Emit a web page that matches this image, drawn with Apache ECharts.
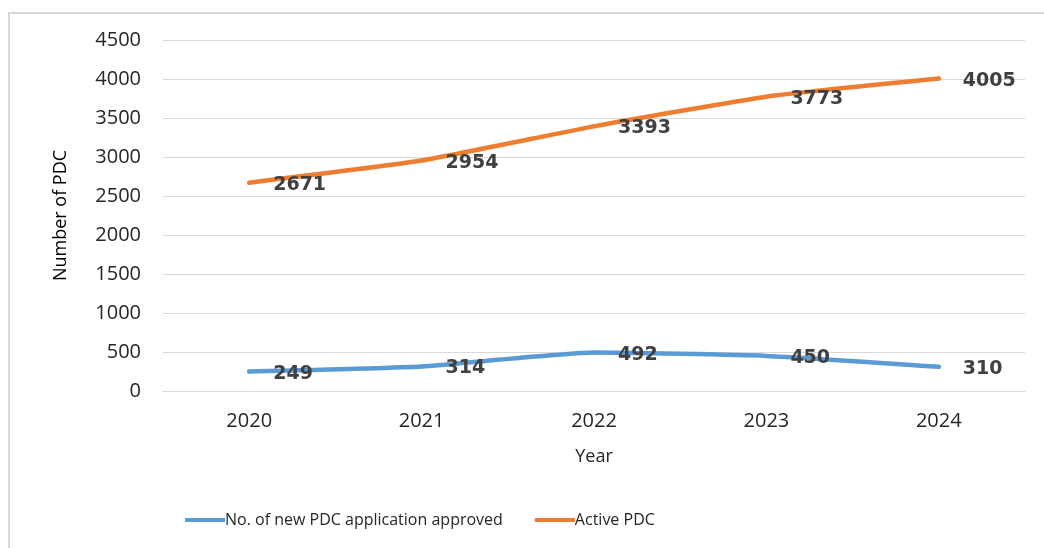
<!DOCTYPE html>
<html>
<head>
<meta charset="utf-8">
<script src="https://cdn.jsdelivr.net/npm/echarts@6/dist/echarts.min.js"></script>
<style>
  html, body { margin: 0; padding: 0; background: #ffffff; }
  #chart { width: 1044px; height: 548px; }
</style>
</head>
<body>
<div id="chart"></div>
<script>
// Years on the x axis
const years = ['2020', '2021', '2022', '2023', '2024'];
// New PDC applications approved each year
const newApproved = [249, 314, 492, 450, 310];
// Active PDC count each year
const activePdc = [2671, 2954, 3393, 3773, 4005];
// Series names shown in the legend
const seriesNames = ['No. of new PDC application approved', 'Active PDC'];

const axisFont = 'Open Sans';
const labelStyle = {
  show: true,
  position: 'right',
  distance: 22,
  offset: [0, 2],
  color: '#404040',
  fontFamily: 'DejaVu Sans',
  fontWeight: 'bold',
  fontSize: 19
};

function lineSeries(name, values, color) {
  return {
    name: name,
    type: 'line',
    data: values,
    smooth: 0.15,
    showSymbol: true,
    symbol: 'circle',
    symbolSize: 4,
    itemStyle: { color: color },
    lineStyle: { color: color, width: 4.5, cap: 'round' },
    label: labelStyle,
    emphasis: { disabled: true }
  };
}

const chart = echarts.init(document.getElementById('chart'), null, { renderer: 'canvas' });
chart.setOption({
  backgroundColor: '#ffffff',
  animation: false,
  graphic: [{
    type: 'rect',
    shape: { x: 9, y: 13, width: 1060, height: 560 },
    style: { fill: 'none', stroke: '#d9d9d9', lineWidth: 2 },
    silent: true,
    z: -1
  }],
  grid: { left: 163, right: 19, top: 40, bottom: 157 },
  legend: {
    bottom: 15,
    left: 180,
    itemWidth: 40,
    itemHeight: 4,
    itemGap: 32,
    icon: 'rect',
    textStyle: { color: '#262626', fontFamily: axisFont, fontSize: 16, padding: [0, 0, 0, -5] },
    data: seriesNames
  },
  xAxis: {
    type: 'category',
    data: years,
    boundaryGap: true,
    name: 'Year',
    nameLocation: 'middle',
    nameGap: 57,
    nameTextStyle: { color: '#262626', fontFamily: axisFont, fontSize: 18 },
    axisLine: { show: true, lineStyle: { color: '#d9d9d9', width: 1 } },
    axisTick: { show: false },
    axisLabel: { color: '#262626', fontFamily: axisFont, fontSize: 20, margin: 20 }
  },
  yAxis: {
    type: 'value',
    min: 0,
    max: 4500,
    interval: 500,
    name: 'Number of PDC',
    nameLocation: 'middle',
    nameGap: 93,
    nameTextStyle: { color: '#000000', fontFamily: axisFont, fontSize: 18 },
    axisLine: { show: false },
    axisTick: { show: false },
    axisLabel: {
      color: '#262626', fontFamily: axisFont, fontSize: 20, margin: 22,
      formatter: function (v) { return String(v); }
    },
    splitLine: { lineStyle: { color: '#d9d9d9', width: 1 } }
  },
  series: [
    lineSeries(seriesNames[0], newApproved, '#5b9bd5'),
    lineSeries(seriesNames[1], activePdc, '#ed7d31')
  ]
});
</script>
</body>
</html>
